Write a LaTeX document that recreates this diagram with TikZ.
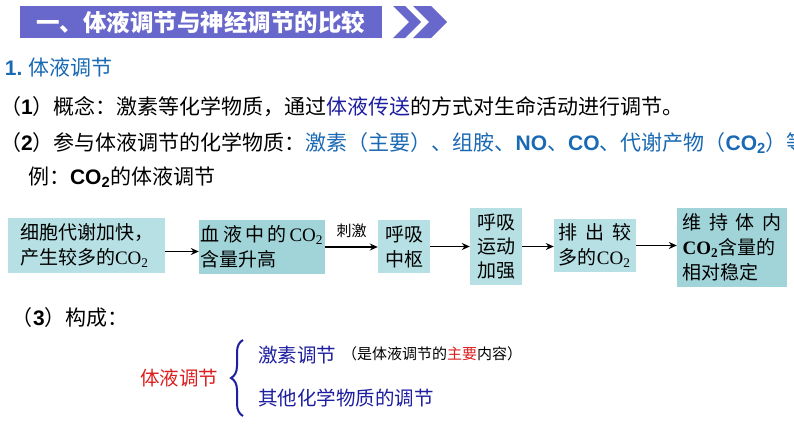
\documentclass[tikz,border=0pt]{standalone}
\usepackage{fontspec}
\setmainfont{Noto Sans CJK SC}
\newfontfamily\lat{Liberation Sans}
\newfontfamily\ser{Liberation Serif}
\usetikzlibrary{arrows.meta,decorations.pathreplacing}
\definecolor{hdr}{RGB}{104,104,204}
\definecolor{blueA}{RGB}{25,105,180}
\definecolor{navy}{RGB}{30,30,160}
\definecolor{redA}{RGB}{220,30,30}
\definecolor{boxl}{RGB}{182,224,228}
\definecolor{boxm}{RGB}{160,212,216}
\newcommand{\coS}{{\ser CO\textsubscript{2}}}
\newcommand{\coSB}{{\ser\bfseries CO\textsubscript{2}}}
\newcommand{\coL}{{\lat\bfseries CO\textsubscript{2}}}
\begin{document}
\begin{tikzpicture}[x=1pt,y=-1pt,
  txt/.style={anchor=west,inner sep=0pt,outer sep=0pt},
  body/.style={txt,font=\fontsize{21}{25}\selectfont},
  flow/.style={fill=boxl,inner sep=0pt,align=left,font=\fontsize{19}{25}\selectfont},
  arr/.style={-{Stealth[length=8pt,width=7pt]},line width=1.6pt}]
\useasboundingbox (0,0) rectangle (794,447);
\fill[white] (0,0) rectangle (794,447);
% header
\fill[hdr] (20,6) rectangle (382,38);
\fill[hdr] (393,6) -- (405,6) -- (421,22) -- (405,38) -- (393,38) -- (409,22) -- cycle;
\fill[hdr] (413,6) -- (431,6) -- (447,22) -- (431,38) -- (413,38) -- (429,22) -- cycle;
\node[txt,text=white,font=\fontsize{23.5}{25}\selectfont\bfseries] (title) at (36,22) {一、体液调节与神经调节的比较};
% heading
\node[txt,text=blueA,font=\fontsize{21}{25}\selectfont] (h1) at (5,67) {{\lat\bfseries 1.} 体液调节};
\node[body] (l1) at (0,107) {（{\lat\bfseries 1}）概念：激素等化学物质，通过\textcolor{navy}{体液传送}的方式对生命活动进行调节。};
\node[body] (l2) at (0,143) {（{\lat\bfseries 2}）参与体液调节的化学物质：\textcolor{blueA}{激素（主要）、组胺、{\lat\bfseries NO}、{\lat\bfseries CO}、代谢产物（\coL）等}};
\node[body] (ex) at (28,177) {例：\coL 的体液调节};
% flow
\node[flow,minimum width=157pt,minimum height=55pt] (b1) at (86.5,245.5) {细胞代谢加快，\\产生较多的\coS};
\node[flow,fill=boxm,minimum width=126pt,minimum height=54pt] (b2) at (262,247) {血\,液\,中\,的\,\coS\\含量升高};
\node[flow,minimum width=52pt,minimum height=53pt] (b3) at (404,246.5) {呼吸\\中枢};
\node[flow,minimum width=52pt,minimum height=77pt,font=\fontsize{19}{24}\selectfont] (b4) at (496,246.5) {呼吸\\运动\\加强};
\node[flow,minimum width=82pt,minimum height=53pt] (b5) at (595,245.5) {排\hspace{0.4em}出\hspace{0.4em}较\\多的\coS};
\node[flow,fill=boxm,minimum width=110pt,minimum height=79pt] (b6) at (732,247.5) {维\hspace{0.4em}持\hspace{0.4em}体\hspace{0.4em}内\\\coSB 含量的\\相对稳定};
\draw[arr] ([yshift=-6pt]b1.east) -- ([yshift=-6pt]b1.east -| b2.west);
\draw[arr] (b2.east) -- (b2.east -| b3.west) node[midway,above=5pt,font=\fontsize{15}{18}\selectfont] (stim) {刺激};
\draw[arr] (b3.east) -- (b3.east -| b4.west);
\draw[arr] (b4.east) -- (b4.east -| b5.west);
\draw[arr] (b5.east) -- (b5.east -| b6.west);
% part 3
\node[body] (l3) at (12,318) {（{\lat\bfseries 3}）构成：};
\node[txt,text=redA,font=\fontsize{19.5}{22}\selectfont] (tyt) at (140,378) {体液调节};
\coordinate (brB) at (243,416);
\coordinate (brT) at (243,340);
\draw[navy,line width=2pt,decorate,decoration={brace,amplitude=12pt}] (brB) -- (brT);
\node[txt,text=navy,font=\fontsize{19.5}{22}\selectfont] (jstj) at (258,355) {激素调节};
\node[txt,font=\fontsize{15}{18}\selectfont] (note) at (342,354) {（是体液调节的\textcolor{redA}{主要}内容）};
\node[txt,text=navy,font=\fontsize{19.5}{22}\selectfont] (qt) at (258,398) {其他化学物质的调节};
\end{tikzpicture}
\end{document}
